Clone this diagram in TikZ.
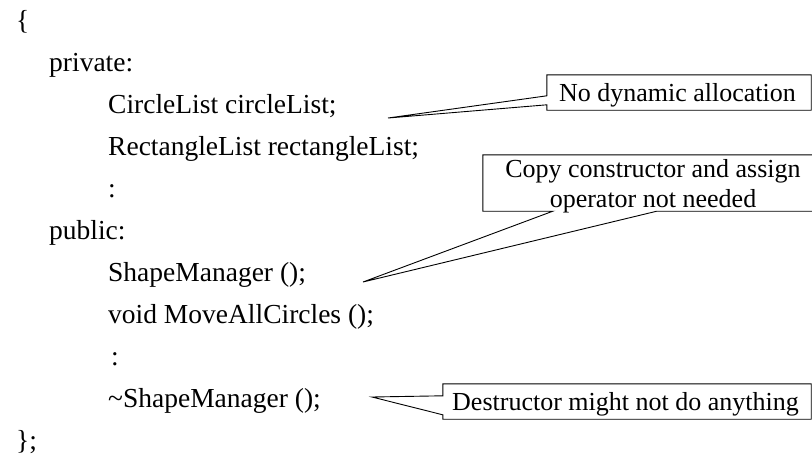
\documentclass[tikz,border=0pt]{standalone}
\usepackage{fontspec}
\setmainfont{Liberation Serif}
\usetikzlibrary{calc}
\tikzset{
  code/.style={anchor=base west, inner sep=0pt, font=\fontsize{27.5}{30}\selectfont},
  ctext/.style={anchor=base, inner sep=0pt, font=\fontsize{26}{28}\selectfont},
  frame/.style={draw=none, inner sep=0pt, rectangle},
  callout/.style={draw=black, line width=0.9pt, line join=miter, fill=none}
}
\begin{document}
\begin{tikzpicture}[x=1pt,y=-1pt]
\useasboundingbox (0,0) rectangle (812,459);
\clip (0,0) rectangle (812,459);
% code lines
\node[code] (l1) at (16,29) {\{};
\node[code] (l2) at (49,71.5) {private:};
\node[code] (l3) at (108,113.5) {CircleList circleList;};
\node[code] (l4) at (108,155.5) {RectangleList rectangleList;};
\node[code] (l5) at (108,197.5) {:};
\node[code] (l6) at (49,239.5) {public:};
\node[code] (l7) at (108,281.5) {ShapeManager ();};
\node[code] (l8) at (108,323.5) {void MoveAllCircles ();};
\node[code] (l9) at (111,365.5) {:};
\node[code] (l10) at (108,407.5) {\textasciitilde ShapeManager ();};
\node[code] (l11) at (16,449.5) {\};};
% callout 1
\node[frame, minimum width=264pt, minimum height=35pt] (b1) at (679,92.5) {};
\node[ctext] (c1) at (677.5,101.5) {No dynamic allocation};
\coordinate (t1) at (388,118);
\coordinate (a1) at ($(b1.north west)+(0,21)$);
\coordinate (d1) at ($(b1.north west)+(0,30)$);
\draw[callout] (d1) -- (b1.south west) -- (b1.south east) -- (b1.north east) -- (b1.north west) -- (a1) -- (t1) -- cycle;
% callout 2
\node[frame, minimum width=340pt, minimum height=56pt] (b2) at (653,183) {};
\node[ctext] (c2a) at (653,177) {Copy constructor and assign};
\node[ctext] (c2b) at (653,207) {operator not needed};
\coordinate (t2) at (363,282);
\coordinate (p2) at ($(b2.south west)+(174,0)$);
\coordinate (q2) at ($(b2.south west)+(70,0)$);
\draw[callout] (b2.south west) -- (b2.north west) -- (b2.north east) -- (b2.south east) -- (p2) -- (t2) -- (q2) -- cycle;
% callout 3
\node[frame, minimum width=368pt, minimum height=35pt] (b3) at (627,401.5) {};
\node[ctext] (c3) at (625.5,410) {Destructor might not do anything};
\coordinate (t3) at (372,397);
\coordinate (a3) at ($(b3.north west)+(0,12)$);
\coordinate (d3) at ($(b3.north west)+(0,31)$);
\draw[callout] (d3) -- (b3.south west) -- (b3.south east) -- (b3.north east) -- (b3.north west) -- (a3) -- (t3) -- cycle;
\end{tikzpicture}
\end{document}
